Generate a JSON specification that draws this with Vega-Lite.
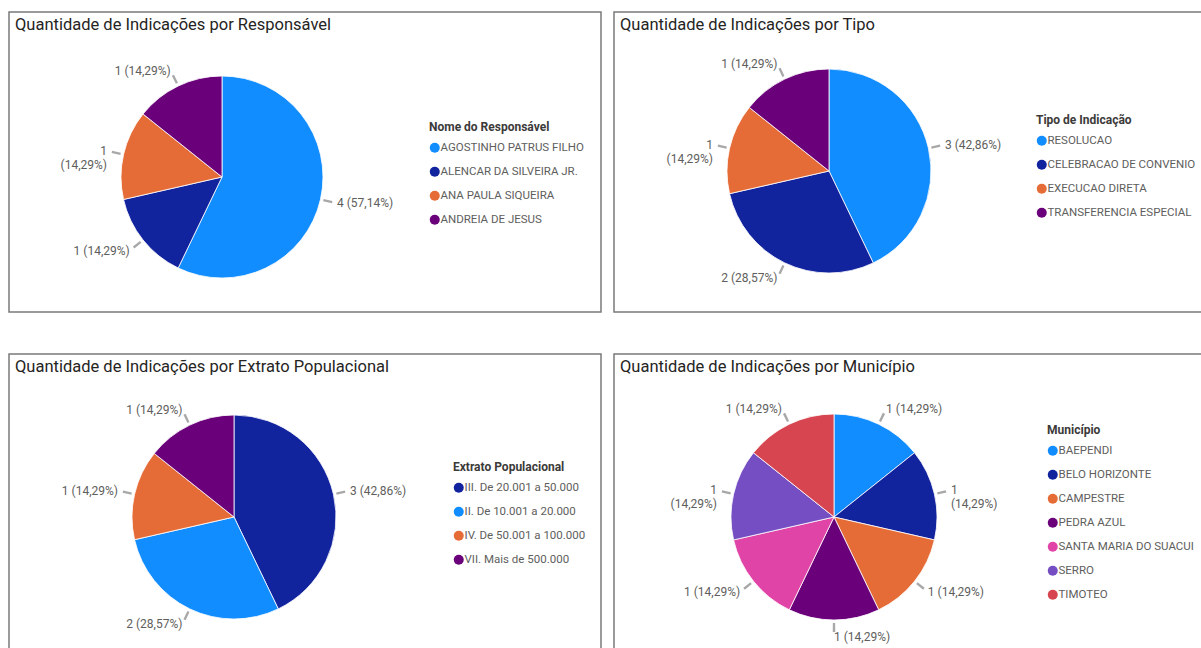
{
  "$schema": "https://vega.github.io/schema/vega-lite/v6.json",
  "background": "#ffffff",
  "padding": {"left": 8, "top": 11, "right": 0, "bottom": 0},
  "columns": 2,
  "spacing": {"row": 40, "column": 11},
  "datasets": {
    "resp": [
      {"cat": "AGOSTINHO PATRUS FILHO", "n": 4, "ord": 1, "label": "4 (57,14%)"},
      {"cat": "ALENCAR DA SILVEIRA JR.", "n": 1, "ord": 2, "label": "1 (14,29%)"},
      {"cat": "ANA PAULA SIQUEIRA", "n": 1, "ord": 3, "label": "1\n(14,29%)"},
      {"cat": "ANDREIA DE JESUS", "n": 1, "ord": 4, "label": "1 (14,29%)"}
    ],
    "tipo": [
      {"cat": "RESOLUCAO", "n": 3, "ord": 1, "label": "3 (42,86%)"},
      {"cat": "CELEBRACAO DE CONVENIO", "n": 2, "ord": 2, "label": "2 (28,57%)"},
      {"cat": "EXECUCAO DIRETA", "n": 1, "ord": 3, "label": "1\n(14,29%)"},
      {"cat": "TRANSFERENCIA ESPECIAL", "n": 1, "ord": 4, "label": "1 (14,29%)"}
    ],
    "extrato": [
      {"cat": "III. De 20.001 a  50.000", "n": 3, "ord": 1, "label": "3 (42,86%)"},
      {"cat": "II. De 10.001 a 20.000", "n": 2, "ord": 2, "label": "2 (28,57%)"},
      {"cat": "IV. De 50.001 a 100.000", "n": 1, "ord": 3, "label": "1 (14,29%)"},
      {"cat": "VII. Mais de 500.000", "n": 1, "ord": 4, "label": "1 (14,29%)"}
    ],
    "mun": [
      {"cat": "BAEPENDI", "n": 1, "ord": 1, "label": "1 (14,29%)"},
      {"cat": "BELO HORIZONTE", "n": 1, "ord": 2, "label": "1\n(14,29%)"},
      {"cat": "CAMPESTRE", "n": 1, "ord": 3, "label": "1 (14,29%)"},
      {"cat": "PEDRA AZUL", "n": 1, "ord": 4, "label": "1 (14,29%)"},
      {"cat": "SANTA MARIA DO SUACUI", "n": 1, "ord": 5, "label": "1 (14,29%)"},
      {"cat": "SERRO", "n": 1, "ord": 6, "label": "1\n(14,29%)"},
      {"cat": "TIMOTEO", "n": 1, "ord": 7, "label": "1 (14,29%)"}
    ]
  },
  "concat": [
    {
      "width": 592, "height": 300,
      "view": {"stroke": "#7a7a7a", "strokeWidth": 1.5, "fill": "#ffffff"},
      "data": {"name": "resp"},
      "title": {"text": "Quantidade de Indicações por Responsável", "anchor": "start", "frame": "group", "offset": -21, "dx": 6, "font": "Roboto", "fontSize": 16.5, "fontWeight": "normal", "color": "#252423"},
      "encoding": {
        "color": {"field": "cat", "type": "nominal",
          "scale": {"domain": ["AGOSTINHO PATRUS FILHO", "ALENCAR DA SILVEIRA JR.", "ANA PAULA SIQUEIRA", "ANDREIA DE JESUS"], "range": ["#118DFF", "#12239E", "#E66C37", "#6B007B"]},
          "legend": {"title": "Nome do Responsável", "orient": "none", "legendX": 420, "legendY": 110}},
        "order": {"field": "ord", "type": "quantitative"}
      },
      "layer": [
        {"mark": {"type": "arc", "x": 213, "y": 165, "radius": 101, "stroke": "#ffffff", "strokeWidth": 0.8},
         "encoding": {"theta": {"field": "n", "type": "quantitative", "stack": true}}},
        {"mark": {"type": "text", "x": 213, "y": 165, "radius": 118, "fontSize": 12, "font": "Roboto", "lineBreak": "\n", "baseline": "middle", "align": {"expr": "datum['n_start'] + datum['n_end'] > 7 ? 'right' : 'left'"}},
         "encoding": {"theta": {"field": "n", "type": "quantitative", "stack": true}, "detail": {"field": "cat"}, "text": {"field": "label"}, "color": {"value": "#605E5C"}}},
        {"transform": [
           {"window": [{"op": "sum", "field": "n", "as": "cum"}], "sort": [{"field": "ord"}]},
           {"calculate": "datum.cum - datum.n/2 - 0.012", "as": "t1"},
           {"calculate": "datum.cum - datum.n/2 + 0.012", "as": "t2"}],
         "mark": {"type": "arc", "x": 213, "y": 165, "radius": 113, "radius2": 104},
         "encoding": {"theta": {"field": "t1", "type": "quantitative", "stack": null}, "theta2": {"field": "t2"}, "color": {"value": "#a8a8a8"}}}
      ]
    },
    {
      "width": 592, "height": 300,
      "view": {"stroke": "#7a7a7a", "strokeWidth": 1.5, "fill": "#ffffff"},
      "data": {"name": "tipo"},
      "title": {"text": "Quantidade de Indicações por Tipo", "anchor": "start", "frame": "group", "offset": -21, "dx": 6, "font": "Roboto", "fontSize": 16.5, "fontWeight": "normal", "color": "#252423"},
      "encoding": {
        "color": {"field": "cat", "type": "nominal",
          "scale": {"domain": ["RESOLUCAO", "CELEBRACAO DE CONVENIO", "EXECUCAO DIRETA", "TRANSFERENCIA ESPECIAL"], "range": ["#118DFF", "#12239E", "#E66C37", "#6B007B"]},
          "legend": {"title": "Tipo de Indicação", "orient": "none", "legendX": 422, "legendY": 103}},
        "order": {"field": "ord", "type": "quantitative"}
      },
      "layer": [
        {"mark": {"type": "arc", "x": 215, "y": 159, "radius": 102, "stroke": "#ffffff", "strokeWidth": 0.8},
         "encoding": {"theta": {"field": "n", "type": "quantitative", "stack": true}}},
        {"mark": {"type": "text", "x": 215, "y": 159, "radius": 119, "fontSize": 12, "font": "Roboto", "lineBreak": "\n", "baseline": "middle", "align": {"expr": "datum['n_start'] + datum['n_end'] > 7 ? 'right' : 'left'"}},
         "encoding": {"theta": {"field": "n", "type": "quantitative", "stack": true}, "detail": {"field": "cat"}, "text": {"field": "label"}, "color": {"value": "#605E5C"}}},
        {"transform": [
           {"window": [{"op": "sum", "field": "n", "as": "cum"}], "sort": [{"field": "ord"}]},
           {"calculate": "datum.cum - datum.n/2 - 0.012", "as": "t1"},
           {"calculate": "datum.cum - datum.n/2 + 0.012", "as": "t2"}],
         "mark": {"type": "arc", "x": 215, "y": 159, "radius": 114, "radius2": 105},
         "encoding": {"theta": {"field": "t1", "type": "quantitative", "stack": null}, "theta2": {"field": "t2"}, "color": {"value": "#a8a8a8"}}}
      ]
    },
    {
      "width": 592, "height": 300,
      "view": {"stroke": "#7a7a7a", "strokeWidth": 1.5, "fill": "#ffffff"},
      "data": {"name": "extrato"},
      "title": {"text": "Quantidade de Indicações por Extrato Populacional", "anchor": "start", "frame": "group", "offset": -21, "dx": 6, "font": "Roboto", "fontSize": 16.5, "fontWeight": "normal", "color": "#252423"},
      "encoding": {
        "color": {"field": "cat", "type": "nominal",
          "scale": {"domain": ["III. De 20.001 a  50.000", "II. De 10.001 a 20.000", "IV. De 50.001 a 100.000", "VII. Mais de 500.000"], "range": ["#12239E", "#118DFF", "#E66C37", "#6B007B"]},
          "legend": {"title": "Extrato Populacional", "orient": "none", "legendX": 444, "legendY": 108}},
        "order": {"field": "ord", "type": "quantitative"}
      },
      "layer": [
        {"mark": {"type": "arc", "x": 225, "y": 163, "radius": 102, "stroke": "#ffffff", "strokeWidth": 0.8},
         "encoding": {"theta": {"field": "n", "type": "quantitative", "stack": true}}},
        {"mark": {"type": "text", "x": 225, "y": 163, "radius": 119, "fontSize": 12, "font": "Roboto", "lineBreak": "\n", "baseline": "middle", "align": {"expr": "datum['n_start'] + datum['n_end'] > 7 ? 'right' : 'left'"}},
         "encoding": {"theta": {"field": "n", "type": "quantitative", "stack": true}, "detail": {"field": "cat"}, "text": {"field": "label"}, "color": {"value": "#605E5C"}}},
        {"transform": [
           {"window": [{"op": "sum", "field": "n", "as": "cum"}], "sort": [{"field": "ord"}]},
           {"calculate": "datum.cum - datum.n/2 - 0.012", "as": "t1"},
           {"calculate": "datum.cum - datum.n/2 + 0.012", "as": "t2"}],
         "mark": {"type": "arc", "x": 225, "y": 163, "radius": 114, "radius2": 105},
         "encoding": {"theta": {"field": "t1", "type": "quantitative", "stack": null}, "theta2": {"field": "t2"}, "color": {"value": "#a8a8a8"}}}
      ]
    },
    {
      "width": 592, "height": 300,
      "view": {"stroke": "#7a7a7a", "strokeWidth": 1.5, "fill": "#ffffff"},
      "data": {"name": "mun"},
      "title": {"text": "Quantidade de Indicações por Município", "anchor": "start", "frame": "group", "offset": -21, "dx": 6, "font": "Roboto", "fontSize": 16.5, "fontWeight": "normal", "color": "#252423"},
      "encoding": {
        "color": {"field": "cat", "type": "nominal",
          "scale": {"domain": ["BAEPENDI", "BELO HORIZONTE", "CAMPESTRE", "PEDRA AZUL", "SANTA MARIA DO SUACUI", "SERRO", "TIMOTEO"], "range": ["#118DFF", "#12239E", "#E66C37", "#6B007B", "#E044A7", "#744EC2", "#D64550"]},
          "legend": {"title": "Município", "orient": "none", "legendX": 433, "legendY": 71}},
        "order": {"field": "ord", "type": "quantitative"}
      },
      "layer": [
        {"mark": {"type": "arc", "x": 220, "y": 163, "radius": 103, "stroke": "#ffffff", "strokeWidth": 0.8},
         "encoding": {"theta": {"field": "n", "type": "quantitative", "stack": true}}},
        {"mark": {"type": "text", "x": 220, "y": 163, "radius": 120, "fontSize": 12, "font": "Roboto", "lineBreak": "\n", "baseline": "middle", "align": {"expr": "datum['n_start'] + datum['n_end'] > 7 ? 'right' : 'left'"}},
         "encoding": {"theta": {"field": "n", "type": "quantitative", "stack": true}, "detail": {"field": "cat"}, "text": {"field": "label"}, "color": {"value": "#605E5C"}}},
        {"transform": [
           {"window": [{"op": "sum", "field": "n", "as": "cum"}], "sort": [{"field": "ord"}]},
           {"calculate": "datum.cum - datum.n/2 - 0.012", "as": "t1"},
           {"calculate": "datum.cum - datum.n/2 + 0.012", "as": "t2"}],
         "mark": {"type": "arc", "x": 220, "y": 163, "radius": 115, "radius2": 106},
         "encoding": {"theta": {"field": "t1", "type": "quantitative", "stack": null}, "theta2": {"field": "t2"}, "color": {"value": "#a8a8a8"}}}
      ]
    }
  ],
  "resolve": {"scale": {"color": "independent", "theta": "independent"}, "legend": {"color": "independent"}},
  "config": {
    "font": "Roboto",
    "view": {"stroke": "#7a7a7a", "strokeWidth": 1.5},
    "legend": {
      "titleFont": "Roboto", "titleFontSize": 12, "titleFontWeight": "bold", "titleColor": "#3b3a39", "titlePadding": 8,
      "labelFont": "Roboto", "labelFontSize": 11.5, "labelColor": "#605E5C", "labelOffset": 0, "labelLimit": 250,
      "symbolType": "circle", "symbolSize": 100, "symbolStrokeWidth": 0, "rowPadding": 11
    }
  }
}
